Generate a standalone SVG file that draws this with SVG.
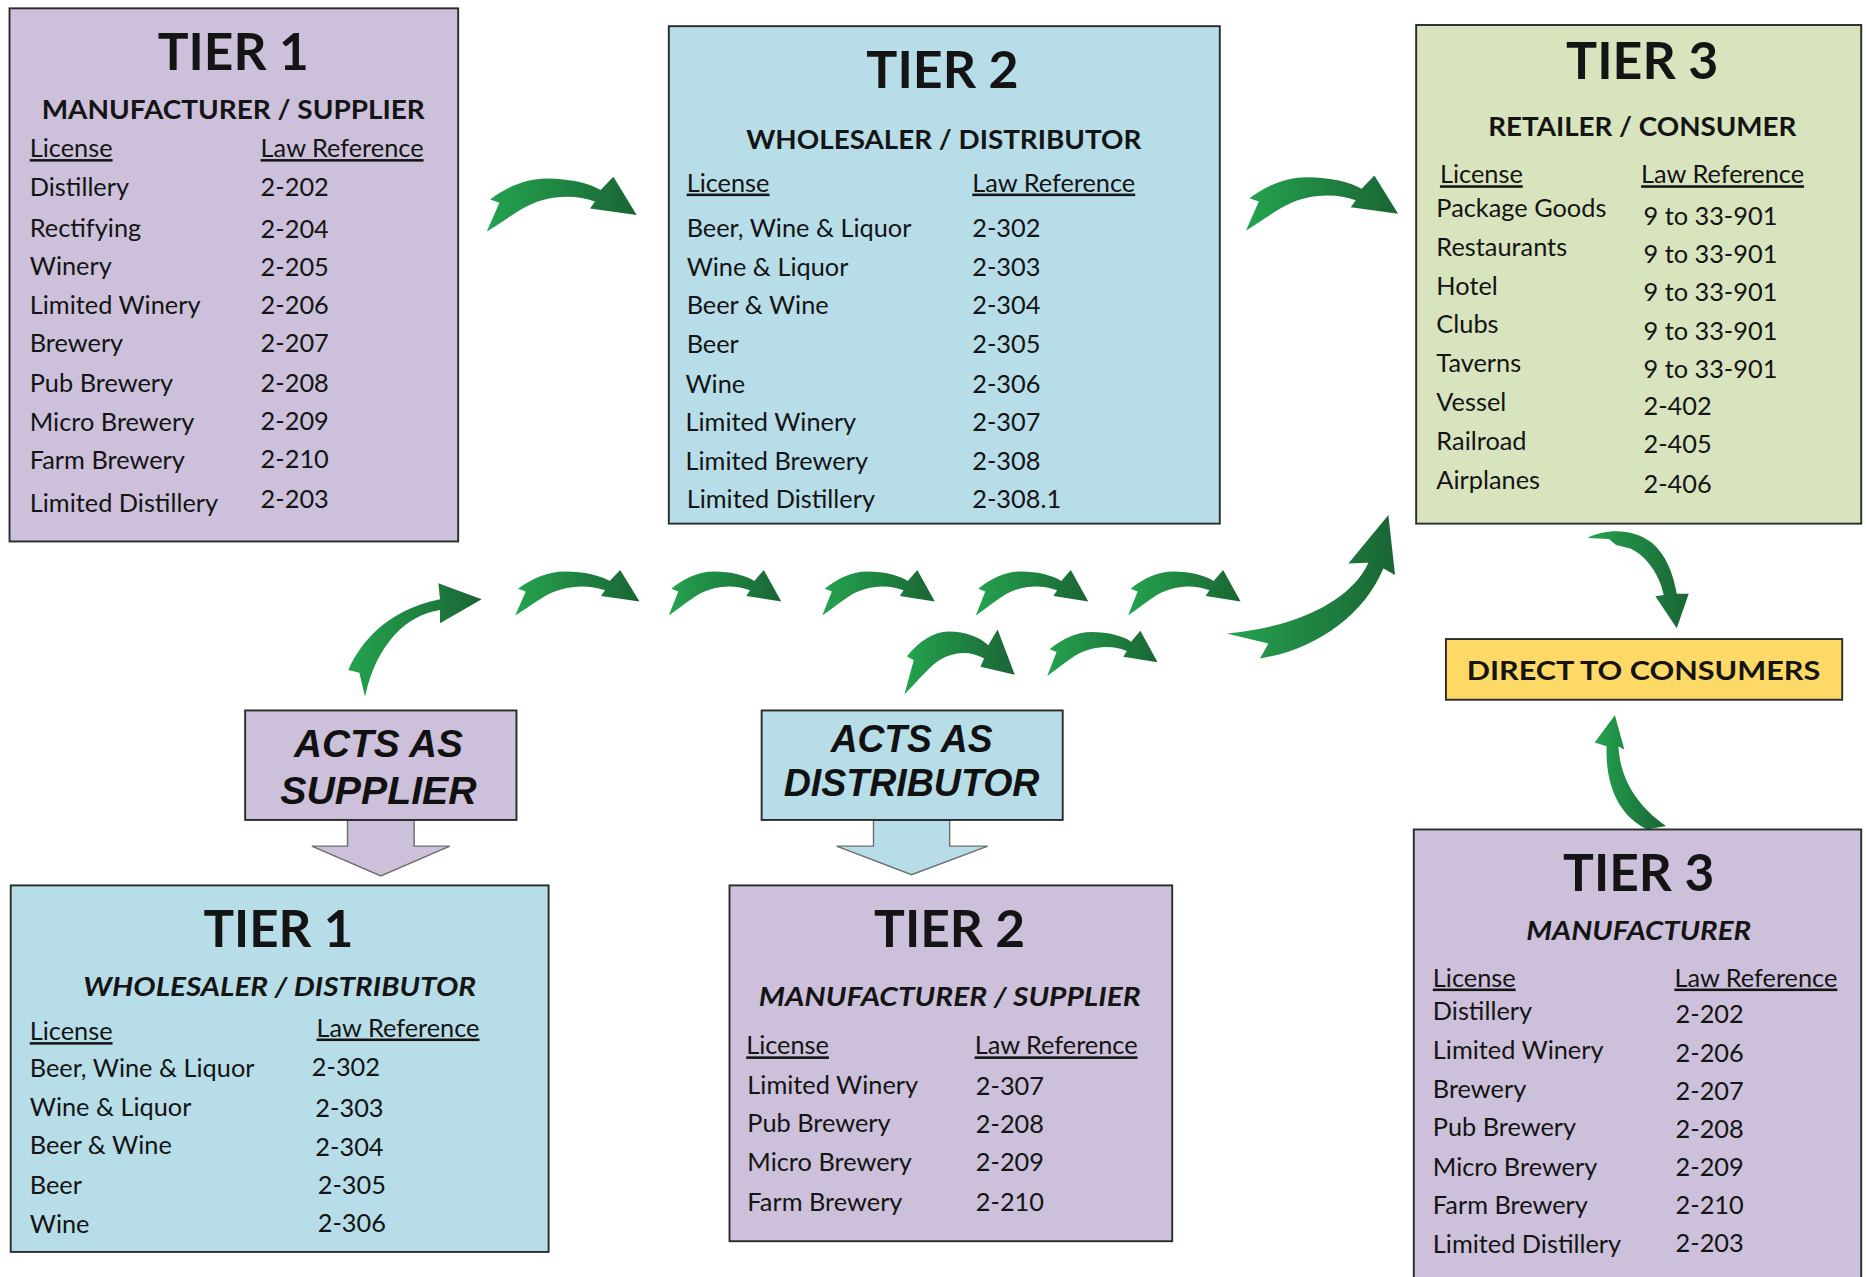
<svg xmlns="http://www.w3.org/2000/svg" xmlns:xlink="http://www.w3.org/1999/xlink" width="1866" height="1277" viewBox="0 0 1866 1277">
<style>
.box{stroke:#2b2b2b;stroke-width:1.6}
.lav{fill:#ccc0da}.blu{fill:#b7dde8}.grn{fill:#d7e4bd}.gold{fill:#ffd966}
.t{font-family:Lato,"Open Sans","Liberation Sans",sans-serif;fill:#141414}
.title{font-size:43px;font-weight:700;text-anchor:middle}
.sub{font-size:22px;font-weight:700;text-anchor:middle}
.subi{font-size:22px;font-weight:700;font-style:italic;text-anchor:middle}
.row{font-size:21.3px}
.hdr{font-size:21.3px;text-decoration:underline}
.acts{font-family:"Liberation Sans",Arial,sans-serif;font-weight:700;font-style:italic;font-size:32px;text-anchor:middle;fill:#111}
.arr{fill:url(#g)}
.blk{stroke:#6d6d6d;stroke-width:1.2}
</style>
<defs>
<linearGradient id="g" x1="0" y1="0" x2="1" y2="0">
<stop offset="0" stop-color="#24a34f"/>
<stop offset="1" stop-color="#1a6534"/>
</linearGradient>
<path id="arc" d="M10,68 C60,30 120,5 180,5 C250,5 310,20 342,40 L380,0 L450,115 L310,95 L325,74 C260,50 170,55 100,100 C60,125 25,150 0,165 L38,78 Z"/>
</defs>
<rect width="1866" height="1277" fill="#ffffff"/>
<g transform="scale(1.19005)">

<g id="connectors">
<use xlink:href="#arc" class="arr" transform="translate(409,148.5) scale(0.28)"/>
<use xlink:href="#arc" class="arr" transform="translate(1047,147.5) scale(0.284,0.28)"/>
<path class="arr" transform="translate(277.3,470.6) scale(0.2801)" d="M55,330 C90,250 170,150 330,118 L325,70 L455,118 L330,190 L330,150 C230,165 140,250 105,410 L88,338 Z"/>
<use xlink:href="#arc" class="arr" transform="translate(433,479) scale(0.232,0.23)"/>
<use xlink:href="#arc" class="arr" transform="translate(562,479) scale(0.21,0.23)"/>
<use xlink:href="#arc" class="arr" transform="translate(691,479) scale(0.21,0.23)"/>
<use xlink:href="#arc" class="arr" transform="translate(820,479) scale(0.21,0.23)"/>
<use xlink:href="#arc" class="arr" transform="translate(948,479) scale(0.21,0.23)"/>
<use xlink:href="#arc" class="arr" transform="translate(760,529) scale(0.206,0.33)"/>
<use xlink:href="#arc" class="arr" transform="translate(880,530) scale(0.206,0.23)"/>
<path class="arr" transform="translate(1025.2,420.2) scale(0.2801)" d="M20,400 C250,380 400,290 445,188 L385,190 L505,45 L525,225 L490,205 C430,350 280,450 120,475 L145,430 Z"/>
<path class="arr" d="M1334,452 C1350,444 1372,444 1388,456 C1400,466 1406,482 1409,499 L1419,499 L1409,528 L1391,501 L1398,500 C1395,485 1385,468 1370,461 L1358,458 L1352,453 Z"/>
<path class="arr" d="M1357,601 L1365,630 L1360,627 C1361,650 1372,675 1400,694 L1384,697 C1360,685 1349,660 1350,627 L1340,624 Z"/>
<polygon class="blk lav" points="292,689 348,689 348,711 378,711 320,736 262,711 292,711"/>
<polygon class="blk blu" points="734,689 798,689 798,711 830,711 766,735 703,711 734,711"/>
</g>

<g id="tier1-manufacturer">
<rect class="box lav" x="8" y="7" width="377" height="448"/>
<text class="t title" x="196" y="59" textLength="127" lengthAdjust="spacingAndGlyphs">TIER 1</text>
<text class="t sub" x="196" y="100" textLength="322" lengthAdjust="spacingAndGlyphs">MANUFACTURER / SUPPLIER</text>
<text class="t hdr" x="25" y="132">License</text>
<text class="t hdr" x="219" y="132">Law Reference</text>
<text class="t row" x="25" y="165">Distillery</text><text class="t row" x="219" y="165">2-202</text>
<text class="t row" x="25" y="199">Rectifying</text><text class="t row" x="219" y="200">2-204</text>
<text class="t row" x="25" y="231">Winery</text><text class="t row" x="219" y="232">2-205</text>
<text class="t row" x="25" y="264">Limited Winery</text><text class="t row" x="219" y="264">2-206</text>
<text class="t row" x="25" y="296">Brewery</text><text class="t row" x="219" y="296">2-207</text>
<text class="t row" x="25" y="329">Pub Brewery</text><text class="t row" x="219" y="329">2-208</text>
<text class="t row" x="25" y="362">Micro Brewery</text><text class="t row" x="219" y="361">2-209</text>
<text class="t row" x="25" y="394">Farm Brewery</text><text class="t row" x="219" y="393">2-210</text>
<text class="t row" x="25" y="430">Limited Distillery</text><text class="t row" x="219" y="427">2-203</text>
</g>

<g id="tier2-wholesaler">
<rect class="box blu" x="562" y="22" width="463" height="418"/>
<text class="t title" x="792" y="74" textLength="128" lengthAdjust="spacingAndGlyphs">TIER 2</text>
<text class="t sub" x="793" y="125" textLength="332" lengthAdjust="spacingAndGlyphs">WHOLESALER / DISTRIBUTOR</text>
<text class="t hdr" x="577" y="161">License</text>
<text class="t hdr" x="817" y="161">Law Reference</text>
<text class="t row" x="577" y="199">Beer, Wine &amp; Liquor</text><text class="t row" x="817" y="199">2-302</text>
<text class="t row" x="577" y="232">Wine &amp; Liquor</text><text class="t row" x="817" y="232">2-303</text>
<text class="t row" x="577" y="264">Beer &amp; Wine</text><text class="t row" x="817" y="264">2-304</text>
<text class="t row" x="577" y="297">Beer</text><text class="t row" x="817" y="297">2-305</text>
<text class="t row" x="576" y="330">Wine</text><text class="t row" x="817" y="330">2-306</text>
<text class="t row" x="576" y="362">Limited Winery</text><text class="t row" x="817" y="362">2-307</text>
<text class="t row" x="576" y="395">Limited Brewery</text><text class="t row" x="817" y="395">2-308</text>
<text class="t row" x="577" y="427">Limited Distillery</text><text class="t row" x="817" y="427">2-308.1</text>
</g>

<g id="tier3-retailer">
<rect class="box grn" x="1190" y="21" width="374" height="419"/>
<text class="t title" x="1380" y="66" textLength="128" lengthAdjust="spacingAndGlyphs">TIER 3</text>
<text class="t sub" x="1380" y="114" textLength="259" lengthAdjust="spacingAndGlyphs">RETAILER / CONSUMER</text>
<text class="t hdr" x="1210" y="154">License</text>
<text class="t hdr" x="1379" y="154">Law Reference</text>
<text class="t row" x="1207" y="182">Package Goods</text><text class="t row" x="1381" y="189">9 to 33-901</text>
<text class="t row" x="1207" y="215">Restaurants</text><text class="t row" x="1381" y="221">9 to 33-901</text>
<text class="t row" x="1207" y="248">Hotel</text><text class="t row" x="1381" y="253">9 to 33-901</text>
<text class="t row" x="1207" y="280">Clubs</text><text class="t row" x="1381" y="286">9 to 33-901</text>
<text class="t row" x="1207" y="313">Taverns</text><text class="t row" x="1381" y="318">9 to 33-901</text>
<text class="t row" x="1207" y="345">Vessel</text><text class="t row" x="1381" y="349">2-402</text>
<text class="t row" x="1207" y="378">Railroad</text><text class="t row" x="1381" y="381">2-405</text>
<text class="t row" x="1207" y="411">Airplanes</text><text class="t row" x="1381" y="414">2-406</text>
</g>

<g id="acts-as-supplier">
<rect class="box lav" x="206" y="597" width="228" height="92"/>
<text class="acts" x="318" y="636" textLength="142" lengthAdjust="spacingAndGlyphs">ACTS AS</text>
<text class="acts" x="318" y="676" textLength="165" lengthAdjust="spacingAndGlyphs">SUPPLIER</text>
</g>

<g id="acts-as-distributor">
<rect class="box blu" x="640" y="597" width="253" height="92"/>
<text class="acts" x="766" y="632" textLength="136" lengthAdjust="spacingAndGlyphs">ACTS AS</text>
<text class="acts" x="766" y="669" textLength="215" lengthAdjust="spacingAndGlyphs">DISTRIBUTOR</text>
</g>

<g id="direct-to-consumers">
<rect class="box gold" x="1215" y="537" width="333" height="51"/>
<text class="t sub" x="1381" y="571" font-size="24" textLength="297" lengthAdjust="spacingAndGlyphs">DIRECT TO CONSUMERS</text>
</g>

<g id="tier1-wholesaler">
<rect class="box blu" x="9" y="744" width="452" height="308"/>
<text class="t title" x="234" y="796" textLength="126" lengthAdjust="spacingAndGlyphs">TIER 1</text>
<text class="t subi" x="235" y="837" textLength="330" lengthAdjust="spacingAndGlyphs">WHOLESALER / DISTRIBUTOR</text>
<text class="t hdr" x="25" y="874">License</text>
<text class="t hdr" x="266" y="871">Law Reference</text>
<text class="t row" x="25" y="905">Beer, Wine &amp; Liquor</text><text class="t row" x="262" y="904">2-302</text>
<text class="t row" x="25" y="938">Wine &amp; Liquor</text><text class="t row" x="265" y="939">2-303</text>
<text class="t row" x="25" y="970">Beer &amp; Wine</text><text class="t row" x="265" y="971">2-304</text>
<text class="t row" x="25" y="1003">Beer</text><text class="t row" x="267" y="1003">2-305</text>
<text class="t row" x="25" y="1036">Wine</text><text class="t row" x="267" y="1035">2-306</text>
</g>

<g id="tier2-manufacturer">
<rect class="box lav" x="613" y="744" width="372" height="299"/>
<text class="t title" x="798" y="796" textLength="127" lengthAdjust="spacingAndGlyphs">TIER 2</text>
<text class="t subi" x="798" y="845" textLength="321" lengthAdjust="spacingAndGlyphs">MANUFACTURER / SUPPLIER</text>
<text class="t hdr" x="627" y="886">License</text>
<text class="t hdr" x="819" y="886">Law Reference</text>
<text class="t row" x="628" y="919">Limited Winery</text><text class="t row" x="820" y="920">2-307</text>
<text class="t row" x="628" y="951">Pub Brewery</text><text class="t row" x="820" y="952">2-208</text>
<text class="t row" x="628" y="984">Micro Brewery</text><text class="t row" x="820" y="984">2-209</text>
<text class="t row" x="628" y="1018">Farm Brewery</text><text class="t row" x="820" y="1018">2-210</text>
</g>

<g id="tier3-manufacturer">
<rect class="box lav" x="1188" y="697" width="376" height="390"/>
<text class="t title" x="1377" y="749" textLength="127" lengthAdjust="spacingAndGlyphs">TIER 3</text>
<text class="t subi" x="1377" y="790" textLength="189" lengthAdjust="spacingAndGlyphs">MANUFACTURER</text>
<text class="t hdr" x="1204" y="829">License</text>
<text class="t hdr" x="1407" y="829">Law Reference</text>
<text class="t row" x="1204" y="857">Distillery</text><text class="t row" x="1408" y="860">2-202</text>
<text class="t row" x="1204" y="890">Limited Winery</text><text class="t row" x="1408" y="892">2-206</text>
<text class="t row" x="1204" y="923">Brewery</text><text class="t row" x="1408" y="924">2-207</text>
<text class="t row" x="1204" y="955">Pub Brewery</text><text class="t row" x="1408" y="956">2-208</text>
<text class="t row" x="1204" y="988">Micro Brewery</text><text class="t row" x="1408" y="988">2-209</text>
<text class="t row" x="1204" y="1020">Farm Brewery</text><text class="t row" x="1408" y="1020">2-210</text>
<text class="t row" x="1204" y="1053">Limited Distillery</text><text class="t row" x="1408" y="1052">2-203</text>
</g>

</g>
</svg>
